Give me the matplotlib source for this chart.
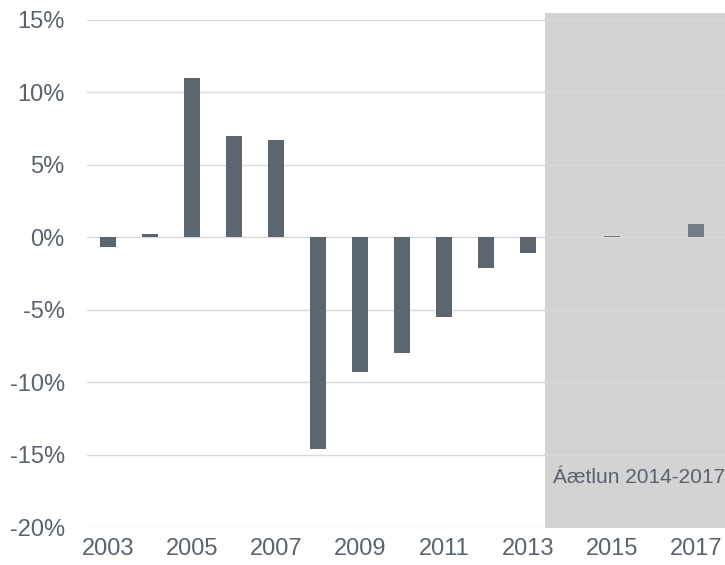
import matplotlib
matplotlib.use("Agg")
import matplotlib.pyplot as plt
from matplotlib.patches import Rectangle

# yearly change, % (2014-2017 are the forecast)
years = list(range(2003, 2018))
values = [-0.7, 0.25, 11.0, 7.0, 6.75, -14.6, -9.3, -8.0, -5.5, -2.1, -1.1,
          0.0, 0.1, 0.0, 0.9]
forecast_from = 2014
yticks = [-20, -15, -10, -5, 0, 5, 10, 15]
xtick_years = [2003, 2005, 2007, 2009, 2011, 2013, 2015, 2017]
shade_label = "Áætlun 2014-2017"

plt.rcParams['font.family'] = ['Liberation Sans', 'DejaVu Sans']
txt = "#59636e"

fig = plt.figure(figsize=(7.25, 5.65), dpi=100)
ax = fig.add_axes([87 / 725, 1 - 527 / 565, (725 - 87) / 725, (527 - 20) / 565])

x = [y - years[0] for y in years]
ax.set_xlim(-0.5, 14.69)
ax.set_ylim(-20, 15)

# forecast shading
x0 = forecast_from - years[0] - 0.6
ax.add_patch(Rectangle((x0, -20.1), 14.69 - x0, 35.6, facecolor="#d3d3d3",
                       edgecolor="none", zorder=0, clip_on=False))

for yv in yticks:
    ax.axhline(yv, color="#d9d9d9", lw=1, zorder=1)

cols = ["#5b6670" if y < forecast_from else "#767d86" for y in years]
ax.bar(x, values, width=0.38, color=cols, zorder=2)

ax.text(14.69, -16.6, shade_label, ha="right", va="center", fontsize=15, color=txt)

ax.set_yticks(yticks)
ax.set_yticklabels([f"{v}%" for v in yticks])
ax.set_xticks([y - years[0] for y in xtick_years])
ax.set_xticklabels([str(y) for y in xtick_years])
ax.tick_params(axis="both", length=0, labelsize=17, colors=txt)
ax.tick_params(axis="y", pad=16)
ax.tick_params(axis="x", pad=8)
for s in ax.spines.values():
    s.set_visible(False)

fig.savefig("out.png", dpi=100)
